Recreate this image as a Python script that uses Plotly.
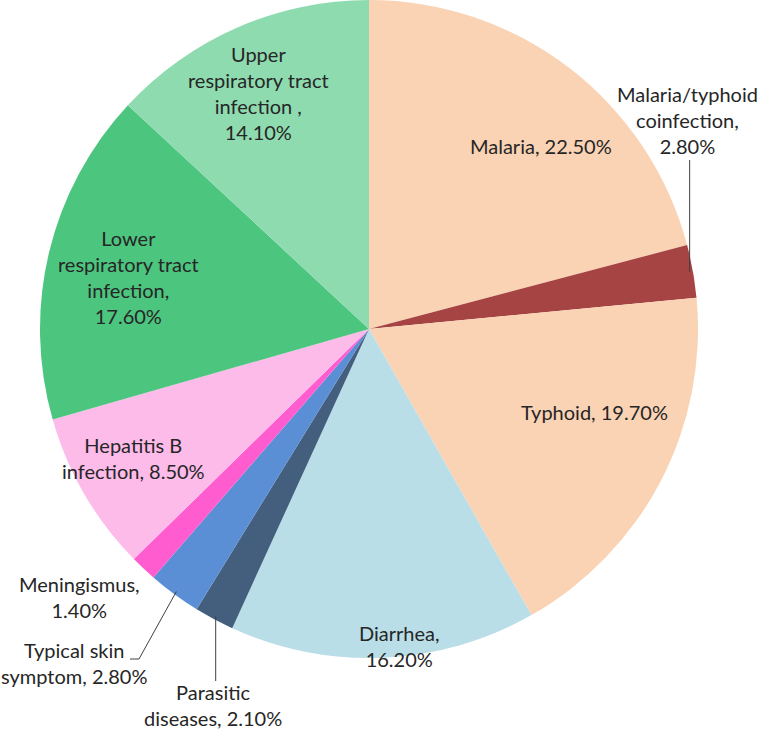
import math
import plotly.graph_objects as go

# ---- data ----
categories = [
    "Malaria", "Malaria/typhoid coinfection", "Typhoid", "Diarrhea",
    "Parasitic diseases", "Typical skin symptom", "Meningismus",
    "Hepatitis B infection", "Lower respiratory tract infection",
    "Upper respiratory tract infection ",
]
values = [22.5, 2.8, 19.7, 16.2, 2.1, 2.8, 1.4, 8.5, 17.6, 14.1]
label_texts = [
    "Malaria, 22.50%",
    "Malaria/typhoid<br>coinfection,<br>2.80%",
    "Typhoid, 19.70%",
    "Diarrhea,<br>16.20%",
    "Parasitic<br>diseases, 2.10%",
    "Typical skin<br>symptom, 2.80%",
    "Meningismus,<br>1.40%",
    "Hepatitis B<br>infection, 8.50%",
    "Lower<br>respiratory tract<br>infection,<br>17.60%",
    "Upper<br>respiratory tract<br>infection ,<br>14.10%",
]

# ---- style ----
colors = ["#F9D3B4", "#A64443", "#F9D3B4", "#B9DEE8", "#445E7E",
          "#5A8ED5", "#FF5CCF", "#FDBBEA", "#4CC57F", "#8FDBB0"]
W, H = 760, 733
CX, CY, R = 369, 329, 329    # screen pixels
# label centres in screen pixels (text placement only)
label_pos = [(541, 146), (687, 120), (594, 412), (399, 646), (213, 705),
             (74, 663), (79, 597), (133, 458), (128, 277), (258, 93)]
# leader lines: extra points after the slice anchor (None = keep x)
leaders = {
    1: [(None, 160)],
    4: [(None, 681)],
    5: [(139, 659), (130, 659)],
}

def px(x, y):
    return x / W, 1 - y / H

x0d, y1d = px(CX - R, CY - R)
x1d, y0d = px(CX + R, CY + R)

fig = go.Figure(go.Pie(
    labels=categories, values=values, sort=False, direction="clockwise",
    rotation=0, marker=dict(colors=colors, line=dict(width=0)),
    textinfo="none", hoverinfo="label+percent", showlegend=False,
    domain=dict(x=[x0d, x1d], y=[max(0, y0d), min(1, y1d)]),
))

for t, (lx, ly) in zip(label_texts, label_pos):
    x, y = px(lx, ly)
    fig.add_annotation(x=x, y=y, xref="paper", yref="paper", text=t, showarrow=False,
                       font=dict(family="Lato, Carlito, sans-serif", size=20, color="#262626"),
                       align="center", xanchor="center", yanchor="middle")

total = sum(values)
cum = 0
mids = []
for v in values:
    mids.append((cum + v / 2) / total * 2 * math.pi)
    cum += v

for i, pts in leaders.items():
    a = mids[i]
    sx = CX + R * 0.99 * math.sin(a)
    sy = CY - R * 0.99 * math.cos(a)
    path_pts = [(sx, sy)]
    for (x, y) in pts:
        path_pts.append((sx if x is None else x, y))
    for (xa, ya), (xb, yb) in zip(path_pts[:-1], path_pts[1:]):
        a0 = px(xa, ya); a1 = px(xb, yb)
        fig.add_shape(type="line", xref="paper", yref="paper", x0=a0[0], y0=a0[1],
                      x1=a1[0], y1=a1[1], line=dict(color="#404040", width=1))

fig.update_layout(width=W, height=H, margin=dict(l=0, r=0, t=0, b=0),
                  paper_bgcolor="white", plot_bgcolor="white")
fig.write_html("out.html", config={"displayModeBar": False},
               post_script="document.body.style.margin='0';document.body.style.overflow='hidden';")
